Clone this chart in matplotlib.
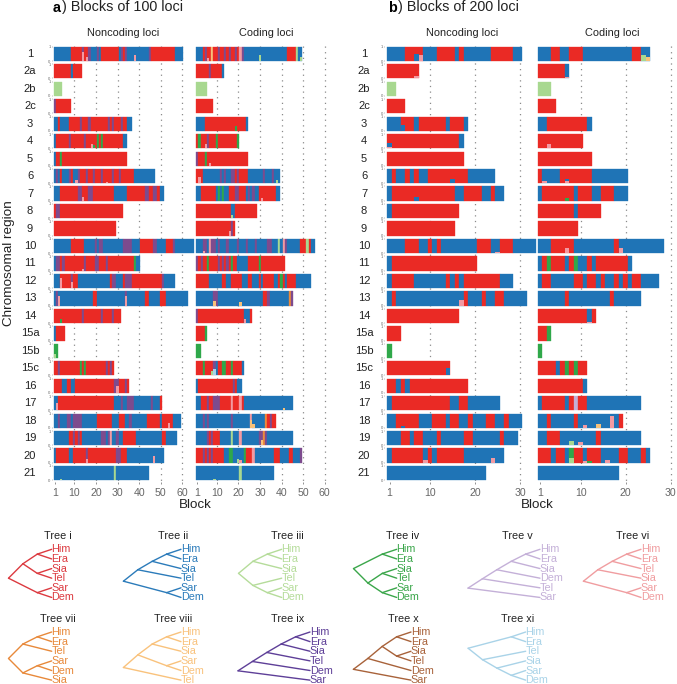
"""
Tree blocks along chromosomes, with the tree key below.
"""
import matplotlib
matplotlib.use("Agg")
import matplotlib.pyplot as plt

plt.rcParams['font.family'] = ['Liberation Sans', 'DejaVu Sans']

W, H = 677, 684
TEXT = '#222222'
GREY = '#666666'

regions = ['1', '2a', '2b', '2c', '3', '4', '5', '6', '7', '8', '9', '10', '11', '12', '13',
           '14', '15a', '15b', '15c', '16', '17', '18', '19', '20', '21']

# letter for each tree, M is a red/blue mixed block
colours = {'R': '#ea2a25', 'B': '#1f74b6', 'L': '#a8d890', 'G': '#2fa84a', 'V': '#c4aed6',
           'P': '#f29aa2', 'O': '#ec8b3c', 'Y': '#f8c27a', 'U': '#5e3f98', 'N': '#a8623a',
           'C': '#a9d3e8', 'M': '#7d4b8e'}

# runs of blocks along each region, one string per region
noncoding_100 = [
    "B8 R5 M1 R2 M1 B3 M1 B1 R8 B1 M1 R1 M1 B10 M1 R11 B4",
    "R8 B1 R4", "L4", "M1 R7",
    "B2 R1 B4 R5 M1 R3 M1 R8 M1 R1 M1 R3 M1 R2 B2",
    "B1 R6 M1 R6 M1 R5 G1 R1 G1 R9 B2",
    "B1 R2 G1 R30",
    "B1 M1 B1 R1 B3 M1 R1 B2 M1 R3 M1 R2 M1 R3 M1 R4 M1 R2 M1 R6 B10",
    "B3 R8 M2 R3 M2 R10 B6 R8 M2 R2 M2 R1 B2",
    "R1 M2 R29", "R29",
    "B8 R6 B5 M1 B1 M2 B9 M4 B4 R6 M2 B4 R3 M1 B9",
    "B1 M2 R1 M1 R9 M1 R4 M2 R3 M1 R12 G1 B2",
    "B3 R5 M1 R2 B15 R1 M2 B3 R1 M3 R14 M1 B5",
    "B1 M1 B16 R2 B13 M1 B8 R2 B5 R3 B10",
    "R13 M1 R8 M1 R4 M1 R3",
    "B1 R4", "G2",
    "R2 M1 R9 G1 R1 G1 R9 M1 R1 M1 R1",
    "R4 B2 R2 B2 R18 M2 R3 M1 R1",
    "B2 R26 B3 M1 B2 M3 B8 M1 B3 R1",
    "B2 M1 B3 M2 B1 M4 B7 R7 B3 R3 B2 M1 B7 R6 B1 R5 B4",
    "B7 R2 M1 R1 M1 R1 B9 M2 B1 M1 P1 B2 M1 B2 R6 B12 R2 B5",
    "B1 R6 B2 R6 M1 R13 M2 R3 B17",
    "B28 L1 B15",
]
coding_100 = [
    "B3 R1 M1 R2 Y1 R2 M1 R2 M1 R1 M1 R2 M1 R1 P1 M1 B20 R4 L1 B2",
    "R6 M1 R5 B1", "L5", "R8",
    "B4 R19 B1",
    "R1 G1 R3 M1 R3 G1 R9 G1",
    "M1 R3 G1 R19",
    "R3 B8 M1 B1 M1 B2 M2 R1 M1 R4 B7 M1 B3 M1 B3",
    "B2 R7 B1 G1 B1 G1 B2 R3 M2 R3 B1 M1 B1 M1 B2 R8 B2",
    "R16 B2 R10", "R16 M1 R1",
    "B3 M2 B1 P1 M2 B1 M1 B3 M1 B4 M1 B3 M1 B3 M1 B5 M2 B3 L1 B1 P1 M1 B6 R3 L1 R1 B2",
    "M1 R1 M1 R2 G1 R4 M1 R1 M1 R1 M1 R1 G1 R2 B5 R5 G1 R11",
    "R6 B6 R2 B2 R5 B3 R2 B3 R1 B1 R5 B2 R1 G1 R1 B1 R4 B7",
    "B8 M2 B21 R2 M1 B9 O1 M1",
    "M1 R21 B3 R1",
    "R4 G1", "G2",
    "R3 G1 R4 M1 B1 R2 G2 R2 G1 R4 B1",
    "B1 R16 M1 R1 B2",
    "B2 R3 M1 R2 M3 R5 P1 R3 P1 R1 B23",
    "B3 M1 B1 M1 B10 M1 B8 P1 B6 O1 R1 M1 R2",
    "B5 M1 R1 M1 R3 B5 L1 B3 P1 B8 M2 O1 M1 B12",
    "R3 M1 R1 M1 R1 M1 R5 B2 G2 B5 G1 R3 P1 B9 R3 B4 R2 B3 M1",
    "B20 L1 B15",
]
noncoding_200 = [
    "B4 R4 B3 R4 B1 R1 B6 R5 B2",
    "R7", "L2", "R4",
    "B3 R3 B1 R6 B1 R3 B1",
    "R16 B1",
    "R17",
    "B1 R1 B2 R1 B1 R1 B2 R5 R4 B6",
    "B1 R14 B2 R4 B2 R1 B2",
    "B1 R15", "R15",
    "B4 R3 B2 R1 B1 R1 B8 R3 B2 R3 B5",
    "B1 R19",
    "B1 R5 B7 R1 B1 R1 B1 R8 B3",
    "B1 R1 B15 R1 B3 R1 B2 R2 B5",
    "R16",
    "R3", "G1", "R14",
    "R2 B1 R1 B1 R13",
    "B1 R13 B2 R2 B7",
    "B2 R5 B3 R3 B1 R2 B2 R1 B3 R2 B2 R1 B3",
    "B3 R2 B1 R2 B3 R1 B5 R2 B6 R1 B3",
    "B1 R7 B1 R1 B1 R6 B9",
    "B22",
]
coding_200 = [
    "B3 R2 B2 R3 B11 R2 B2",
    "R6 B1", "L3", "R4",
    "B2 R9 B1",
    "R10",
    "R12",
    "R1 B4 R7 B8",
    "B1 R7 B1 R3 B2 R3 B3",
    "R8 B1 R5", "R9",
    "B3 R5 B9 R1 B10",
    "B1 R1 G1 R3 B1 R1 G1 B2 R1 B1 R7 B1",
    "B1 R2 B5 R2 B1 R2 B1 R1 B2 R1 B1 R1 B1 R2 B4",
    "B6 R1 B9 R1 B6",
    "R11 B1 R1",
    "R2 G1", "G1",
    "R4 B1 R1 G1 R1 G1 R2",
    "R10 B1",
    "B1 R5 B1 R1 V1 R2 B12",
    "B2 R1 B5 R1 B9 R1",
    "B2 R3 B8 R1 B9",
    "R3 B1 R2 B1 G1 R2 B1 R3 B4 R2 B3 R1 B1",
    "B18",
]

# small shares at the foot of a block: region, block, tree, share
minor_nc100 = [('1', 14, 'P', .6), ('1', 16, 'P', .3), ('1', 38, 'P', .45), ('2a', 9, 'B', .35),
               ('4', 18, 'P', .3), ('4', 19, 'G', .2), ('6', 11, 'P', .2), ('6', 25, 'P', .12),
               ('7', 14, 'P', .25), ('12', 4, 'P', .7), ('12', 9, 'P', .4), ('13', 3, 'P', .7),
               ('13', 34, 'P', .65), ('14', 4, 'G', .3), ('15b', 1, 'L', .3), ('16', 30, 'P', .5),
               ('17', 2, 'P', .5), ('18', 54, 'P', .35), ('20', 16, 'P', .25), ('20', 47, 'P', .45),
               ('11', 14, 'P', .15), ('21', 4, 'L', .08)]
minor_c100 = [('1', 6, 'P', .2), ('1', 30, 'L', .45), ('1', 49, 'L', .3), ('3', 19, 'G', .35),
              ('4', 5, 'P', .3), ('5', 7, 'P', .2), ('6', 2, 'P', .45), ('6', 38, 'L', .25),
              ('7', 31, 'P', .2), ('8', 17, 'L', .25), ('9', 16, 'P', .3), ('13', 9, 'Y', .35),
              ('13', 21, 'Y', .25), ('14', 23, 'P', .3), ('15c', 9, 'C', .45), ('15c', 8, 'L', .3),
              ('17', 41, 'Y', .2), ('18', 26, 'Y', .55), ('18', 27, 'Y', .3), ('19', 31, 'Y', .4),
              ('20', 20, 'L', .3), ('20', 21, 'P', .2), ('21', 9, 'L', .1), ('10', 4, 'P', .15)]
minor_nc200 = [('1', 7, 'B', .5), ('1', 8, 'P', .45), ('2a', 7, 'P', .15), ('3', 4, 'B', .4),
               ('4', 1, 'B', .35), ('4', 1, 'P', .12), ('6', 15, 'B', .3), ('7', 7, 'B', .25),
               ('13', 17, 'P', .4), ('15c', 14, 'B', .55), ('20', 9, 'P', .2), ('20', 24, 'P', .35),
               ('18', 4, 'B', .1), ('10', 25, 'P', .1)]
minor_c200 = [('1', 24, 'L', .45), ('1', 25, 'Y', .3), ('2a', 7, 'P', .1), ('4', 3, 'P', .3),
              ('6', 2, 'P', .15), ('6', 7, 'B', .3), ('6', 7, 'P', .15), ('7', 7, 'G', .2),
              ('10', 7, 'P', .35), ('10', 19, 'P', .35), ('14', 12, 'P', .1), ('18', 11, 'P', .2),
              ('18', 14, 'Y', .25), ('18', 17, 'P', .85), ('20', 8, 'L', .35), ('20', 11, 'P', .15),
              ('20', 12, 'G', .15), ('20', 16, 'P', .2), ('19', 8, 'L', .3), ('19', 10, 'P', .2)]

# tree key: name, colour, newick-like nesting
tree_names = ['Tree i', 'Tree ii', 'Tree iii', 'Tree iv', 'Tree v', 'Tree vi',
              'Tree vii', 'Tree viii', 'Tree ix', 'Tree x', 'Tree xi']
tree_colours = ['#dc3a40', '#2b7bba', '#b5dc9a', '#3aa64a', '#c4b0d8', '#f09da0',
                '#e8893a', '#f9c27c', '#5e3f98', '#a8623a', '#a9d3e8']
tree_shapes = [
    ((('Him', 'Era'), ('Sia', 'Tel')), ('Sar', 'Dem')),
    ((((('Him', 'Era'), 'Sia'), 'Tel')), ('Sar', 'Dem')),
    ((('Him', 'Era'), 'Sia'), ('Tel', ('Sar', 'Dem'))),
    (('Him', 'Era'), (('Sia', 'Tel'), ('Sar', 'Dem'))),
    ((((('Him', 'Era'), 'Sia'), 'Dem'), 'Tel'), 'Sar'),
    ((((('Him', 'Era'), 'Tel')), 'Sia'), ('Sar', 'Dem')),
    ((('Him', 'Era'), 'Tel'), (('Sar', 'Dem'), 'Sia')),
    ((((('Him', 'Era'), 'Sia'), ('Sar', 'Dem'))), 'Tel'),
    ((((('Him', 'Era'), 'Sia'), 'Tel'), 'Dem'), 'Sar'),
    ((((('Him', 'Era'), ('Sia', 'Tel'))), 'Dem'), 'Sar'),
    (('Him', 'Era'), ('Tel', ('Sia', ('Sar', 'Dem')))),
]
tree_title_x = [57.7, 172.7, 287.7, 403, 517.7, 632.7, 57.7, 172.7, 287.7, 403, 517.7]
tree_leaf_x = [51.7, 181, 281.7, 396.7, 540, 641, 51.7, 181, 310, 411, 525.7]
tree_rows = [0, 0, 0, 0, 0, 0, 1, 1, 1, 1, 1]

ROW_TOP = 53.85
ROW_STEP = 17.47
BAR_H = 0.82


def make_axes(fig, x0, px_per_block, xmax):
    top = ROW_TOP - ROW_STEP/2
    bottom = top + ROW_STEP*len(regions)
    ax = fig.add_axes([x0/W, 1 - bottom/H, px_per_block*xmax/W, (bottom - top)/H])
    ax.set_xlim(0, xmax)
    ax.set_ylim(len(regions) - 0.5, -0.5)
    ax.patch.set_alpha(0)
    for s in ax.spines.values():
        s.set_visible(False)
    return ax


def draw_panel(ax, runs, minor, ticks, y_marks):
    ax.vlines(ticks[1:], -0.45, len(regions) - 0.5, color='#8a8a8a', lw=0.9,
              linestyle=(0, (1, 3.5)), zorder=1)
    for i, row in enumerate(runs):
        start = 0.5
        for token in row.split():
            n = int(token[1:])
            # same colour edge, no white seams between runs
            ax.bar(start, BAR_H, width=n, bottom=i - BAR_H/2, align='edge',
                   color=colours[token[0]], edgecolor=colours[token[0]], lw=0.25, zorder=2)
            start += n
    for region, block, tree, share in minor:
        i = regions.index(region)
        ax.bar(block, BAR_H*share, width=1, bottom=i + BAR_H/2 - BAR_H*share,
               color=colours[tree], lw=0, zorder=3)
    ax.set_xticks(ticks)
    ax.tick_params(axis='x', length=1.5, width=0.5, color=GREY, labelcolor=GREY,
                   labelsize=7.6, pad=3)
    if y_marks:
        pos = [p for i in range(len(regions)) for p in (i - BAR_H/2, i + BAR_H/2)]
        ax.set_yticks(pos, ['1', '0']*len(regions))
        ax.tick_params(axis='y', length=1, width=0.3, color=GREY, labelcolor=GREY,
                       labelsize=3, pad=0.5)
    else:
        ax.set_yticks([])


def height(node):
    if isinstance(node, str):
        return 0
    return 1 + max(height(c) for c in node)


def draw_tree(ov, node, leaf_x, leaf_ys, colour, step=14.4):
    # returns the point of this node, leaves are used top to bottom
    if isinstance(node, str):
        y = leaf_ys.pop(0)
        ov.text(leaf_x - 0.3, y, node, color=colour, fontsize=7.8, ha='left', va='center')
        return leaf_x, y
    kids = [draw_tree(ov, c, leaf_x, leaf_ys, colour, step) for c in node]
    y = sum(k[1] for k in kids)/len(kids)
    x = leaf_x - step*height(node)
    for kx, ky in kids:
        ov.plot([x, kx], [y, ky], color=colour, lw=1.0, solid_capstyle='round')
    return x, y


def main():
    fig = plt.figure(figsize=(W/100, H/100), dpi=100)

    ticks_a = [1, 10, 20, 30, 40, 50, 60]
    ticks_b = [1, 10, 20, 30]
    panels = [(52.7, 2.16, 66, noncoding_100, minor_nc100, ticks_a, True),
              (195.1, 2.16, 66, coding_100, minor_c100, ticks_a, False),
              (385.0, 4.5, 34, noncoding_200, minor_nc200, ticks_b, True),
              (535.7, 4.5, 31, coding_200, minor_c200, ticks_b, False)]
    for x0, px, xmax, runs, minor, ticks, y_marks in panels:
        ax = make_axes(fig, x0, px, xmax)
        draw_panel(ax, runs, minor, ticks, y_marks)

    # pixel overlay for the labels and the tree key
    ov = fig.add_axes([0, 0, 1, 1])
    ov.set_xlim(0, W)
    ov.set_ylim(H, 0)
    ov.axis('off')
    ov.patch.set_alpha(0)

    ov.text(53, 7.5, 'a', fontsize=10.4, fontweight='bold', color='black', ha='left', va='center')
    ov.text(62, 7.5, ') Blocks of 100 loci', fontsize=10.4, color=TEXT, ha='left', va='center')
    ov.text(388, 7.5, 'b', fontsize=10.4, fontweight='bold', color='black', ha='left', va='center')
    ov.text(397.5, 7.5, ') Blocks of 200 loci', fontsize=10.4, color=TEXT, ha='left', va='center')

    for x, label in [(123, 'Noncoding loci'), (266, 'Coding loci'),
                     (462, 'Noncoding loci'), (612, 'Coding loci')]:
        ov.text(x, 32.5, label, fontsize=7.9, color=TEXT, ha='center', va='center')

    for i, region in enumerate(regions):
        y = ROW_TOP + i*ROW_STEP
        ov.text(30, y, region, fontsize=8, color=TEXT, ha='center', va='center')
        ov.text(364, y, region, fontsize=8, color=TEXT, ha='center', va='center')

    ov.text(9, 263, 'Chromosomal region', fontsize=9.7, color=TEXT, rotation=90,
            ha='center', va='center')
    ov.text(195, 505, 'Block', fontsize=9.6, color=TEXT, ha='center', va='center')
    ov.text(537, 505, 'Block', fontsize=9.6, color=TEXT, ha='center', va='center')

    title_y = [536, 619]
    first_leaf = [549.3, 632]
    for t in range(len(tree_names)):
        row = tree_rows[t]
        ov.text(tree_title_x[t], title_y[row], tree_names[t], fontsize=7.8, color=TEXT,
                ha='center', va='center')
        ys = [first_leaf[row] + k*9.63 for k in range(6)]
        draw_tree(ov, tree_shapes[t], tree_leaf_x[t], ys, tree_colours[t])

    fig.savefig('out.png', dpi=100)


if __name__ == "__main__":
    main()
